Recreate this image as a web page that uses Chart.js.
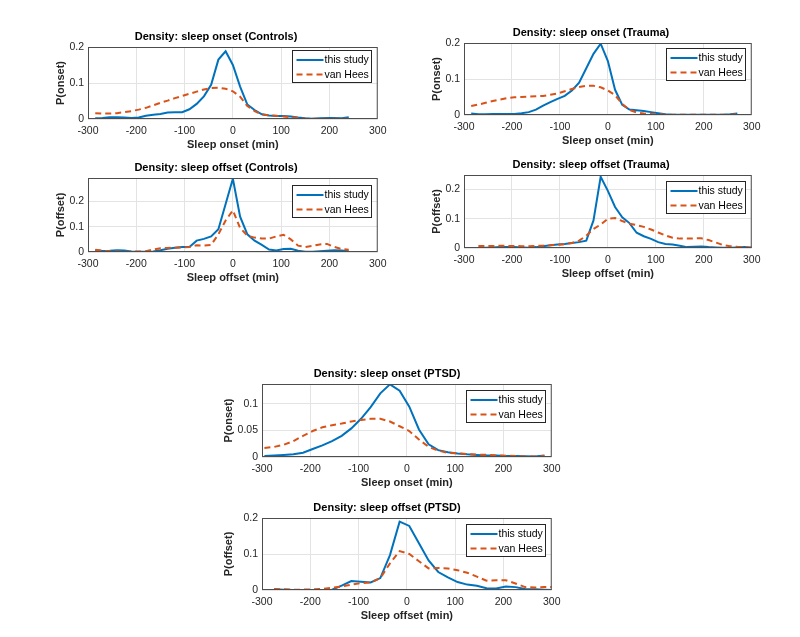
<!DOCTYPE html>
<html>
<head>
<meta charset="utf-8">
<script src="https://cdn.jsdelivr.net/npm/chart.js@4.4.1/dist/chart.umd.min.js"></script>
<style>
body { margin:0; background:#fff; width:800px; height:637px; position:relative; overflow:hidden; }
canvas { position:absolute; }
</style>
</head>
<body>
<canvas id="onsetControls"></canvas>
<canvas id="onsetTrauma"></canvas>
<canvas id="offsetControls"></canvas>
<canvas id="offsetTrauma"></canvas>
<canvas id="onsetPTSD"></canvas>
<canvas id="offsetPTSD"></canvas>
<script>
// ---- data (minutes relative to reference, density) ----
const xTicks = [-300, -200, -100, 0, 100, 200, 300]

const xControls = [-285,-270,-255,-240,-225,-210,-195,-180,-165,-150,-135,-120,-105,-90,-75,-60,-45,-30,-15,0,15,30,45,60,75,90,105,120,135,150,165,180,195,210,225,240]
const onsetControlsStudy = [0.002,0.003,0.005,0.005,0.004,0.003,0.004,0.009,0.012,0.014,0.018,0.019,0.019,0.027,0.042,0.063,0.095,0.165,0.188,0.150,0.090,0.040,0.025,0.013,0.010,0.008,0.008,0.007,0.004,0.002,0.001,0.002,0.003,0.003,0.002,0.005]
const onsetControlsHees = [0.016,0.015,0.015,0.016,0.019,0.022,0.026,0.031,0.038,0.045,0.051,0.058,0.064,0.070,0.076,0.082,0.086,0.087,0.084,0.077,0.062,0.036,0.022,0.013,0.010,0.009,0.007,0.005,0.003,0.001,0.001,0.001,0.001,0.001,0.001,0.001]
const offsetControlsStudy = [0.007,0.004,0.005,0.007,0.006,0.002,0.001,0.001,0.002,0.007,0.013,0.017,0.020,0.020,0.045,0.052,0.062,0.090,0.190,0.290,0.140,0.070,0.045,0.028,0.010,0.006,0.012,0.013,0.005,0.001,0.001,0.003,0.005,0.007,0.006,0.003]
const offsetControlsHees = [0.009,0.005,0.003,0.002,0.001,0.001,0.002,0.003,0.010,0.015,0.016,0.017,0.018,0.020,0.027,0.025,0.028,0.070,0.125,0.165,0.095,0.065,0.057,0.053,0.053,0.062,0.068,0.050,0.025,0.020,0.024,0.030,0.032,0.020,0.012,0.009]

const xOnsetTrauma = [-285,-270,-255,-240,-225,-210,-195,-180,-165,-150,-135,-120,-105,-90,-75,-60,-45,-30,-15,0,15,30,45,60,75,90,105,120,135,150,165,180,195,210,225,240,255,270]
const onsetTraumaStudy = [0.004,0.002,0.002,0.003,0.003,0.003,0.003,0.005,0.008,0.015,0.026,0.036,0.045,0.053,0.068,0.090,0.130,0.170,0.198,0.150,0.070,0.028,0.015,0.013,0.011,0.008,0.005,0.002,0.001,0.001,0.001,0.001,0.001,0.001,0.001,0.001,0.002,0.004]
const onsetTraumaHees = [0.025,0.029,0.034,0.039,0.043,0.047,0.049,0.050,0.051,0.052,0.053,0.056,0.060,0.066,0.072,0.078,0.081,0.081,0.077,0.068,0.055,0.031,0.014,0.007,0.004,0.003,0.002,0.001,0.001,0.001,0.001,0.001,0.001,0.001,0.001,0.001,0.001,0.002]

const xOffsetTrauma = [-270,-255,-240,-225,-210,-195,-180,-165,-150,-135,-120,-105,-90,-75,-60,-45,-30,-15,0,15,30,45,60,75,90,105,120,135,150,165,180,195,210,225,240,255,270,285,300]
const offsetTraumaStudy = [0.001,0.001,0.002,0.003,0.003,0.003,0.002,0.001,0.003,0.006,0.009,0.012,0.014,0.017,0.020,0.025,0.094,0.243,0.195,0.140,0.105,0.085,0.052,0.040,0.031,0.020,0.014,0.012,0.008,0.003,0.004,0.005,0.003,0.002,0.001,0.001,0.002,0.003,0.001]
const offsetTraumaHees = [0.007,0.007,0.007,0.008,0.007,0.007,0.006,0.006,0.007,0.008,0.009,0.011,0.013,0.017,0.025,0.042,0.065,0.080,0.100,0.102,0.092,0.083,0.078,0.072,0.063,0.053,0.043,0.035,0.032,0.032,0.033,0.033,0.027,0.019,0.010,0.006,0.004,0.003,0.001]

const xOnsetPTSD = [-295,-275,-255,-235,-215,-195,-175,-155,-135,-115,-95,-75,-55,-35,-15,5,25,45,65,85,105,125,145,165,185,205,225,245,265,285]
const onsetPTSDStudy = [0.002,0.003,0.004,0.005,0.008,0.015,0.022,0.030,0.040,0.054,0.072,0.094,0.120,0.137,0.125,0.095,0.052,0.024,0.013,0.009,0.0065,0.005,0.004,0.003,0.003,0.002,0.002,0.0015,0.001,0.003]
const onsetPTSDHees = [0.017,0.019,0.023,0.030,0.040,0.049,0.056,0.060,0.063,0.067,0.070,0.072,0.072,0.067,0.058,0.049,0.033,0.019,0.012,0.008,0.0068,0.0057,0.0047,0.004,0.003,0.0025,0.002,0.001,0.0008,0.002]

const xOffsetPTSD = [-275,-255,-235,-215,-195,-175,-155,-135,-115,-95,-75,-55,-35,-15,5,25,45,65,85,105,125,145,165,185,205,225,245,265,285,300]
const offsetPTSDStudy = [0.002,0.001,0,0,0,0,0.001,0.012,0.025,0.023,0.021,0.033,0.097,0.190,0.178,0.130,0.082,0.050,0.035,0.022,0.015,0.012,0.005,0.004,0.010,0.008,0.003,0.002,0.001,0]
const offsetPTSDHees = [0.003,0.002,0.001,0.001,0.002,0.003,0.006,0.010,0.015,0.019,0.021,0.033,0.074,0.108,0.100,0.080,0.060,0.061,0.060,0.055,0.048,0.037,0.026,0.027,0.027,0.018,0.008,0.007,0.008,0.008]

const seriesNames = ['this study', 'van Hees']

Chart.defaults.font.family = "'Liberation Sans', Arial, sans-serif"
Chart.defaults.color = '#262626'

// axes box + inset legend, matlab style
const boxAndLegend = {
    id: 'boxAndLegend',
    afterDraw(chart, args, opts) {
        const {ctx, chartArea: {left, top, right, bottom}} = chart
        ctx.save()
        ctx.strokeStyle = '#4d4d4d'
        ctx.lineWidth = 1
        ctx.strokeRect(left + 0.5, top + 0.5, right - left - 1, bottom - top - 1)
        // legend
        const w = 79, h = 32
        const lx = Math.round(right - 7 - w) + 0.5
        const ly = Math.round(top + opts.offTop) + 0.5
        ctx.fillStyle = '#fff'
        ctx.fillRect(lx, ly, w, h)
        ctx.strokeStyle = '#262626'
        ctx.strokeRect(lx, ly, w, h)
        ctx.font = "10.5px 'Liberation Sans', Arial, sans-serif"
        ctx.textBaseline = 'middle'
        chart.data.datasets.forEach((ds, i) => {
            const yy = ly + 9.5 + i * 14.5
            ctx.strokeStyle = ds.borderColor
            ctx.lineWidth = ds.borderWidth
            ctx.setLineDash(ds.borderDash || [])
            ctx.beginPath()
            ctx.moveTo(lx + 4, yy)
            ctx.lineTo(lx + 31, yy)
            ctx.stroke()
            ctx.setLineDash([])
            ctx.fillStyle = '#000'
            ctx.fillText(ds.label, lx + 32, yy + 0.5)
        })
        ctx.restore()
    }
}

function makePlot(id, box, title, xLabel, yLabel, xs, study, hees, yMax, yStep, yW, legTop) {
    const padR = 14, titleH = 21, xH = 33
    const cv = document.getElementById(id)
    cv.width = yW + box.w + padR
    cv.height = titleH + box.h + xH
    cv.style.left = (box.x - yW) + 'px'
    cv.style.top = (box.y - titleH) + 'px'
    return new Chart(cv, {
        type: 'line',
        data: {
            datasets: [{
                label: seriesNames[0],
                data: xs.map((x, i) => ({x: x, y: study[i]})),
                borderColor: '#0072BD',
                borderWidth: 2,
                pointRadius: 0,
                tension: 0,
                order: 1,
            },
            {
                label: seriesNames[1],
                data: xs.map((x, i) => ({x: x, y: hees[i]})),
                borderColor: '#D95319',
                borderWidth: 2,
                borderDash: [6, 4],
                pointRadius: 0,
                tension: 0,
                order: 0,
            }]
        },
        options: {
            responsive: false,
            animation: false,
            devicePixelRatio: 1,
            layout: {padding: {left: 0, right: padR, top: 0, bottom: 0}},
            plugins: {
                legend: {display: false},
                tooltip: {enabled: false},
                title: {
                    display: true,
                    text: title,
                    color: '#000',
                    font: {size: 11, weight: 'bold'},
                    padding: {top: 4.8, bottom: 3},
                },
                boxAndLegend: {offTop: legTop},
            },
            scales: {
                x: {
                    type: 'linear',
                    min: -300,
                    max: 300,
                    afterBuildTicks: s => { s.ticks = xTicks.map(v => ({value: v})) },
                    ticks: {font: {size: 10.5}, padding: 5.5, maxRotation: 0},
                    grid: {color: '#e3e3e3', drawTicks: false},
                    border: {display: false},
                    title: {display: true, text: xLabel, color: '#262626', font: {size: 11, weight: 'bold'}, padding: 0},
                    afterFit: s => { s.height = xH },
                },
                y: {
                    min: 0,
                    max: yMax,
                    ticks: {
                        font: {size: 10.5},
                        padding: 4,
                        stepSize: yStep,
                        includeBounds: false,
                        callback: v => String(+v.toFixed(3)),
                    },
                    grid: {color: '#e3e3e3', drawTicks: false},
                    border: {display: false},
                    title: {display: true, text: yLabel, color: '#262626', font: {size: 11, weight: 'bold'}, padding: 0},
                    afterFit: s => { s.width = yW },
                },
            },
        },
        plugins: [boxAndLegend],
    })
}

makePlot('onsetControls', {x: 88, y: 47, w: 290, h: 72}, 'Density: sleep onset (Controls)', 'Sleep onset (min)', 'P(onset)',
    xControls, onsetControlsStudy, onsetControlsHees, 0.2, 0.1, 34, 3)
makePlot('onsetTrauma', {x: 464, y: 43, w: 288, h: 72}, 'Density: sleep onset (Trauma)', 'Sleep onset (min)', 'P(onset)',
    xOnsetTrauma, onsetTraumaStudy, onsetTraumaHees, 0.2, 0.1, 34, 5)
makePlot('offsetControls', {x: 88, y: 178, w: 290, h: 74}, 'Density: sleep offset (Controls)', 'Sleep offset (min)', 'P(offset)',
    xControls, offsetControlsStudy, offsetControlsHees, 0.293, 0.1, 34, 7)
makePlot('offsetTrauma', {x: 464, y: 175, w: 288, h: 73}, 'Density: sleep offset (Trauma)', 'Sleep offset (min)', 'P(offset)',
    xOffsetTrauma, offsetTraumaStudy, offsetTraumaHees, 0.249, 0.1, 34, 6)
makePlot('onsetPTSD', {x: 262, y: 384, w: 290, h: 73}, 'Density: sleep onset (PTSD)', 'Sleep onset (min)', 'P(onset)',
    xOnsetPTSD, onsetPTSDStudy, onsetPTSDHees, 0.1377, 0.05, 40, 6)
makePlot('offsetPTSD', {x: 262, y: 518, w: 290, h: 72}, 'Density: sleep offset (PTSD)', 'Sleep offset (min)', 'P(offset)',
    xOffsetPTSD, offsetPTSDStudy, offsetPTSDHees, 0.2, 0.1, 40, 6)
</script>
</body>
</html>
